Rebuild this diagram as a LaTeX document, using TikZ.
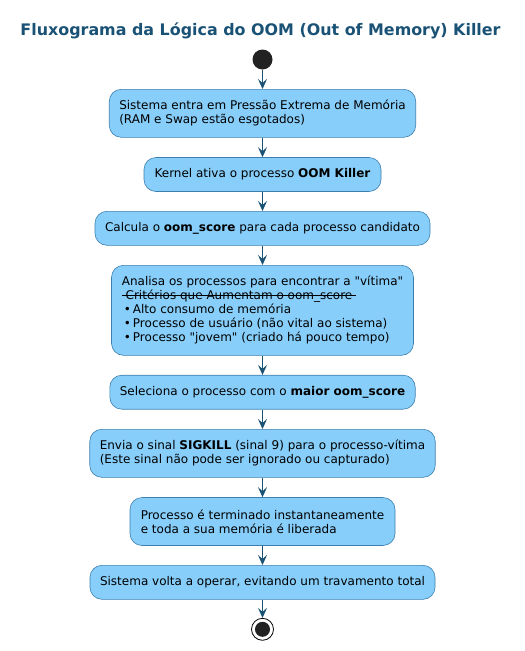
\documentclass[tikz,border=0pt]{standalone}
\usepackage{fontspec}
\setmainfont{DejaVu Sans}
\usetikzlibrary{arrows.meta}
\definecolor{titleblue}{HTML}{1A5276}
\definecolor{boxfill}{HTML}{87CEFA}
\definecolor{boxline}{HTML}{3C7FAE}
\definecolor{arrowblue}{HTML}{1A5276}
\definecolor{dotfill}{HTML}{222222}
\newcommand\mystrike[1]{\setbox0\hbox{#1}\rlap{\rule[0.32em]{\wd0}{0.7pt}}\box0}
\newcommand\dq{\XeTeXglyph\XeTeXcharglyph"22\relax}
\begin{document}
\begin{tikzpicture}[x=1pt,y=-1pt,
  actbox/.style={draw=boxline, line width=0.6pt, fill=boxfill, rounded corners=12pt,
    align=left, font=\fontsize{12}{14}\selectfont, inner xsep=10pt, inner ysep=0pt, text=black},
  flow/.style={draw=arrowblue, line width=1pt, -{Stealth[length=10pt,width=9pt,inset=4pt]}}]
\useasboundingbox (0,0) rectangle (525,651);
\node[font=\bfseries\fontsize{15.9}{18}\selectfont, text=titleblue, anchor=base] (title) at (260.5,35)
  {Fluxograma da Lógica do OOM (Out of Memory) Killer};
\node[circle, fill=dotfill, minimum size=20pt, inner sep=0pt] (start) at (262.5,59.5) {};
\node[actbox, minimum width=305pt, minimum height=48pt] (b1) at (262.5,113.3)
  {Sistema entra em Pressão Extrema de Memória\\(RAM e Swap estão esgotados)};
\node[actbox, minimum width=237pt, minimum height=34pt] (b2) at (262.5,174.5)
  {Kernel ativa o processo \textbf{OOM Killer}};
\node[actbox, minimum width=335pt, minimum height=34pt] (b3) at (262.5,228.3)
  {Calcula o \textbf{oom\_score} para cada processo candidato};
\node[actbox, minimum width=302pt, minimum height=90pt] (b4) at (262.5,310.3)
  {Analisa os processos para encontrar a \dq vítima\dq\\
   \mystrike{\ Critérios que Aumentam o oom\_score\ }\\
   \hspace*{2pt}•\hspace{2pt}Alto consumo de memória\\
   \hspace*{2pt}•\hspace{2pt}Processo de usuário (não vital ao sistema)\\
   \hspace*{2pt}•\hspace{2pt}Processo \dq jovem\dq{} (criado há pouco tempo)};
\node[actbox, minimum width=304pt, minimum height=34pt] (b5) at (262.5,392.2)
  {Seleciona o processo com o \textbf{maior oom\_score}};
\node[actbox, minimum width=345pt, minimum height=48pt] (b6) at (262.5,453.3)
  {Envia o sinal \textbf{SIGKILL} (sinal 9) para o processo-vítima\\(Este sinal não pode ser ignorado ou capturado)};
\node[actbox, minimum width=265pt, minimum height=48pt] (b7) at (262.5,521.5)
  {Processo é terminado instantaneamente\\e toda a sua memória é liberada};
\node[actbox, minimum width=345pt, minimum height=34pt] (b8) at (262.5,582.3)
  {Sistema volta a operar, evitando um travamento total};
\node[circle, draw=black, line width=0.8pt, minimum size=22pt, inner sep=0pt] (stop) at (262.5,629.3) {};
\fill[dotfill] (stop.center) circle (7.5pt);
\draw[flow] (start) -- (b1.north);
\draw[flow] (b1.south) -- (b2.north);
\draw[flow] (b2.south) -- (b3.north);
\draw[flow] (b3.south) -- (b4.north);
\draw[flow] (b4.south) -- (b5.north);
\draw[flow] (b5.south) -- (b6.north);
\draw[flow] (b6.south) -- (b7.north);
\draw[flow] (b7.south) -- (b8.north);
\draw[flow] (b8.south) -- (stop.north);
\end{tikzpicture}
\end{document}
